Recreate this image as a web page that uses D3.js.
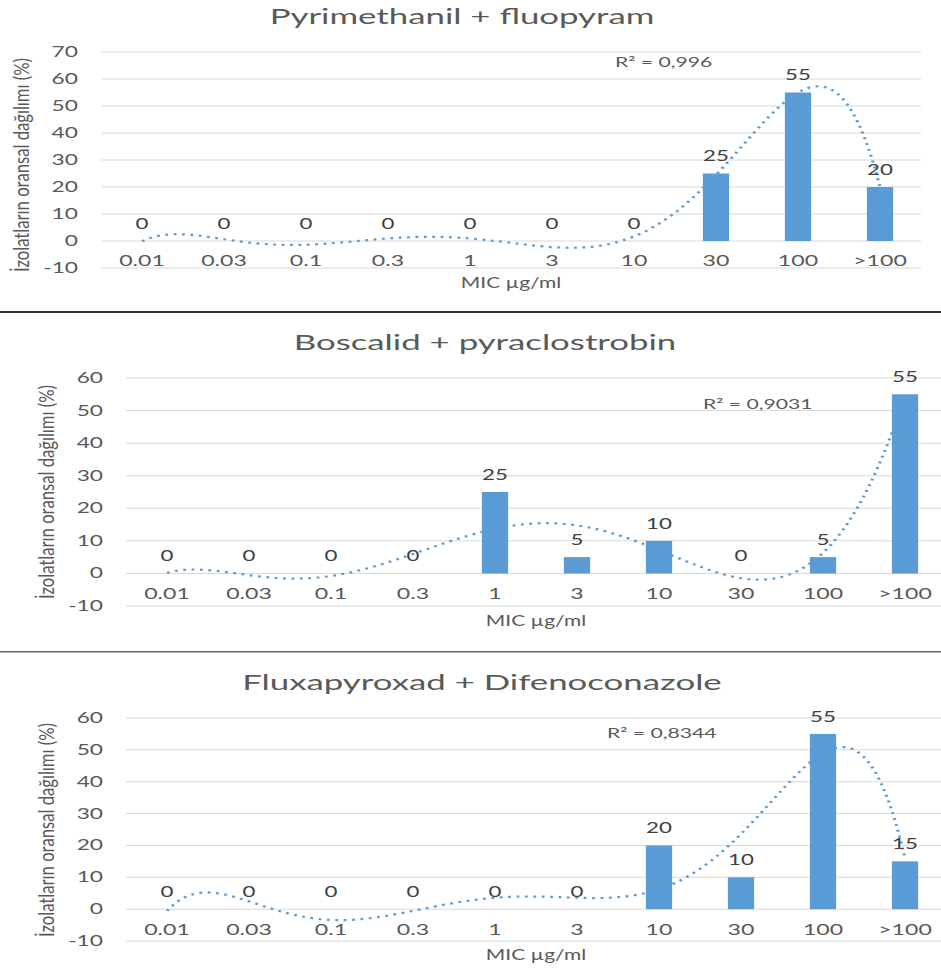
<!DOCTYPE html>
<html><head><meta charset="utf-8">
<script src="https://cdn.jsdelivr.net/npm/d3@7"></script>
<style>body{margin:0;background:#fff} svg{display:block}</style>
</head><body>
<svg id="c" width="941" height="970"></svg>
<script>
// ---------------- data ----------------
const categories = ["0.01","0.03","0.1","0.3","1","3","10","30","100",">100"];
const titles = ["Pyrimethanil + fluopyram","Boscalid + pyraclostrobin","Fluxapyroxad + Difenoconazole"];
const valuesPF = [0,0,0,0,0,0,0,25,55,20];
const valuesBP = [0,0,0,0,25,5,10,0,5,55];
const valuesFD = [0,0,0,0,0,0,20,10,55,15];
const r2Labels = ["R² = 0,996","R² = 0,9031","R² = 0,8344"];
const yTicks1 = [-10,0,10,20,30,40,50,60,70];
const yTicks23 = [-10,0,10,20,30,40,50,60];
const xTitle = "MIC µg/ml";
const yTitle = "İzolatların oransal dağılımı (%)";
const trendOrder = 6;

// ---------------- layout (image is horizontally stretched) ----------------
const S = 1.4;               // horizontal stretch factor
const W = 941 / S, H = 970;
const FONT = "Lato, 'Open Sans', sans-serif";
const BLUE = "#5B9BD5";

const panels = [
  {title: titles[0], values: valuesPF, ticks: yTicks1, left: 101/S, right: 921/S, top: 52, bottom: 268,
   titleX: 462/S, yTitleX: 22/S, yTitleY: 165, r2: r2Labels[0], r2x: 615/S, r2y: 62, axTitleDy: 20},
  {title: titles[1], values: valuesBP, ticks: yTicks23, left: 126/S, right: 946/S, top: 378, bottom: 606,
   titleX: 485/S, yTitleX: 47/S, yTitleY: 492, r2: r2Labels[1], r2x: 703/S, r2y: 404, axTitleDy: 20},
  {title: titles[2], values: valuesFD, ticks: yTicks23, left: 126/S, right: 946/S, top: 718, bottom: 941,
   titleX: 482/S, yTitleX: 47/S, yTitleY: 830, r2: r2Labels[2], r2x: 607/S, r2y: 733, axTitleDy: 19}
];
const separators = [{y: 312, color: "#333", w: 1.8}, {y: 651.7, color: "#666", w: 1.6}];

// polynomial least squares fit (like Excel's polynomial trendline)
function polyFit(xs, ys, order) {
  const n = order + 1;
  const A = Array.from({length: n}, () => new Array(n + 1).fill(0));
  for (let r = 0; r < n; r++) {
    for (let c = 0; c < n; c++) A[r][c] = d3.sum(xs, x => Math.pow(x, r + c));
    A[r][n] = d3.sum(xs, (x, i) => ys[i] * Math.pow(x, r));
  }
  for (let i = 0; i < n; i++) {
    let p = i;
    for (let k = i + 1; k < n; k++) if (Math.abs(A[k][i]) > Math.abs(A[p][i])) p = k;
    [A[i], A[p]] = [A[p], A[i]];
    for (let k = i + 1; k < n; k++) {
      const f = A[k][i] / A[i][i];
      for (let c = i; c <= n; c++) A[k][c] -= f * A[i][c];
    }
  }
  const coef = new Array(n).fill(0);
  for (let i = n - 1; i >= 0; i--) {
    let s = A[i][n];
    for (let c = i + 1; c < n; c++) s -= A[i][c] * coef[c];
    coef[i] = s / A[i][i];
  }
  return x => coef.reduce((acc, a, k) => acc + a * Math.pow(x, k), 0);
}

// widen text a bit to mimic the wider source font
function widen(sel, k) {
  sel.each(function() {
    const len = this.getComputedTextLength();
    if (len > 0) d3.select(this).attr("textLength", len * k).attr("lengthAdjust", "spacingAndGlyphs");
  });
}

const svg = d3.select("#c").attr("viewBox", `0 0 ${W} ${H}`).attr("preserveAspectRatio", "none");
const root = svg.append("g");

panels.forEach(p => {
  const g = root.append("g");
  const x = d3.scaleBand().domain(categories).range([p.left, p.right]).paddingInner(0.68).paddingOuter(0.34);
  const y = d3.scaleLinear().domain([p.ticks[0], p.ticks[p.ticks.length - 1]]).range([p.bottom, p.top]);

  // gridlines
  g.append("g").selectAll("line").data(p.ticks).join("line")
    .attr("x1", p.left).attr("x2", p.right)
    .attr("y1", d => y(d)).attr("y2", d => y(d))
    .attr("stroke", "#d9d9d9").attr("stroke-width", 1);

  // y tick labels
  g.append("g").selectAll("text").data(p.ticks).join("text")
    .attr("x", p.left - 23 / S).attr("y", d => y(d) + 5)
    .attr("text-anchor", "end").attr("font-family", FONT).attr("font-size", 14.5)
    .attr("fill", "#595959").text(d => d)
    .call(widen, 1.12);

  // bars
  g.append("g").selectAll("rect").data(p.values).join("rect")
    .attr("x", (d, i) => x(categories[i])).attr("width", x.bandwidth())
    .attr("y", d => y(Math.max(0, d))).attr("height", d => Math.abs(y(d) - y(0)))
    .attr("fill", BLUE);

  // category labels
  g.append("g").selectAll("text").data(categories).join("text")
    .attr("x", d => x(d) + x.bandwidth() / 2).attr("y", y(0) + 25.5)
    .attr("text-anchor", "middle").attr("font-family", FONT).attr("font-size", 14.5)
    .attr("fill", "#595959").text(d => d)
    .call(widen, 1.14);

  // trendline
  const xs = categories.map((c, i) => i + 1);
  const f = polyFit(xs, p.values, trendOrder);
  const xt = d3.scaleLinear().domain([1, categories.length])
    .range([x(categories[0]) + x.bandwidth() / 2, x(categories[categories.length - 1]) + x.bandwidth() / 2]);
  const samples = d3.range(1, categories.length + 0.0001, 0.05);
  g.append("path").datum(samples)
    .attr("d", d3.line().x(t => xt(t)).y(t => y(f(t))))
    .attr("fill", "none").attr("stroke", BLUE).attr("stroke-width", 2.2)
    .attr("stroke-dasharray", "2 4");

  // data labels
  g.append("g").selectAll("text").data(p.values).join("text")
    .attr("x", (d, i) => x(categories[i]) + x.bandwidth() / 2).attr("y", d => y(d) - 12)
    .attr("text-anchor", "middle").attr("font-family", FONT).attr("font-size", 14.5)
    .attr("fill", "#404040").text(d => d)
    .call(widen, 1.1);

  // R² label
  g.append("text").attr("x", p.r2x).attr("y", p.r2y + 5)
    .attr("font-family", FONT).attr("font-size", 14).attr("fill", "#595959").text(p.r2)
    .call(widen, 1.08);

  // title
  g.append("text").attr("x", p.titleX).attr("y", p.top - 28)
    .attr("text-anchor", "middle").attr("font-family", FONT).attr("font-size", 22)
    .attr("fill", "#595959").text(p.title)
    .call(widen, 1.13);

  // x axis title
  g.append("text").attr("x", (p.left + p.right) / 2).attr("y", p.bottom + p.axTitleDy)
    .attr("text-anchor", "middle").attr("font-family", FONT).attr("font-size", 15)
    .attr("fill", "#595959").text(xTitle);

  // y axis title
  g.append("text")
    .attr("transform", `translate(${p.yTitleX},${p.yTitleY}) rotate(-90)`)
    .attr("text-anchor", "middle").attr("dominant-baseline", "central")
    .attr("font-family", FONT).attr("font-size", 14.5).attr("fill", "#595959")
    .attr("textLength", 214).attr("lengthAdjust", "spacingAndGlyphs")
    .text(yTitle);
});

root.append("g").selectAll("line").data(separators).join("line")
  .attr("x1", 0).attr("x2", W).attr("y1", d => d.y).attr("y2", d => d.y)
  .attr("stroke", d => d.color).attr("stroke-width", d => d.w);
</script>
</body></html>
